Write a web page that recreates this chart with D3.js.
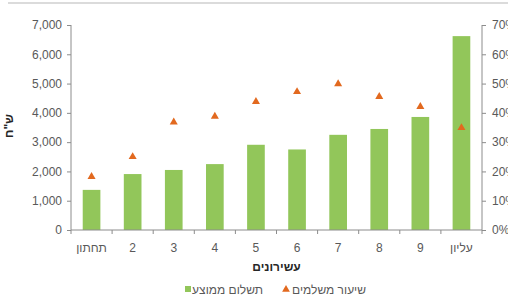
<!DOCTYPE html>
<html>
<head>
<meta charset="utf-8">
<script src="https://cdn.jsdelivr.net/npm/d3@7"></script>
<style>
  body { margin: 0; background: #fff; }
  text { font-family: "Liberation Sans", Arial, sans-serif; }
</style>
</head>
<body>
<div class="chart"></div>
<script>
// deciles, average payment (NIS) and share of payers (%)
const categories = ["תחתון", "2", "3", "4", "5", "6", "7", "8", "9", "עליון"]
const avgPayment = [1370, 1910, 2050, 2250, 2910, 2750, 3250, 3450, 3860, 6620]
const payersRate = [18.2, 25.0, 36.8, 38.8, 43.8, 47.2, 49.9, 45.5, 42.1, 34.9]
const leftTicks = [0, 1000, 2000, 3000, 4000, 5000, 6000, 7000]
const rightTicks = [0, 10, 20, 30, 40, 50, 60, 70]

var width = 508
    height = 305
const margin = {top: 25, right: 26, bottom: 75, left: 71}

const barColor = "#92c65a"
const triColor = "#e2691f"
const axisColor = "#8c8c8c"
const textColor = "#595959"

const svg = d3.select(".chart")
  .append("svg")
    .attr("width", width)
    .attr("height", height)

// thin frame line on top
svg.append("line")
  .attr("x1", 8).attr("x2", width)
  .attr("y1", 3).attr("y2", 3)
  .attr("stroke", "#cfcfcf")
  .attr("stroke-width", 1.5)

const x = d3.scaleBand()
  .domain(categories)
  .range([margin.left, width - margin.right])
  .paddingInner(0.57)
  .paddingOuter(0.285)

const y = d3.scaleLinear()
  .domain([0, 7000])
  .range([height - margin.bottom, margin.top])

const y2 = d3.scaleLinear()
  .domain([0, 70])
  .range([height - margin.bottom, margin.top])

// bars
svg.selectAll("rect.bar")
  .data(avgPayment)
  .enter()
  .append("rect")
    .attr("class", "bar")
    .attr("x", (d, i) => x(categories[i]))
    .attr("width", x.bandwidth())
    .attr("y", d => y(d))
    .attr("height", d => y(0) - y(d))
    .attr("fill", barColor)

// left axis
const leftAxis = svg.append("g")
  .attr("transform", "translate(" + margin.left + ",0)")
  .call(d3.axisLeft(y).tickValues(leftTicks).tickFormat(d3.format(",")).tickSize(4).tickPadding(5))

// right axis (labels run off the right edge, as in the original)
const rightAxis = svg.append("g")
  .attr("transform", "translate(" + (width - margin.right) + ",0)")
  .call(d3.axisRight(y2).tickValues(rightTicks).tickFormat(d => d + "%").tickSize(4).tickPadding(6))

// bottom axis: ticks at band boundaries
const bottom = svg.append("g")
  .attr("transform", "translate(0," + y(0) + ")")
bottom.append("line")
  .attr("x1", margin.left).attr("x2", width - margin.right)
  .attr("stroke", axisColor)
bottom.selectAll("line.tick")
  .data(d3.range(categories.length + 1))
  .enter()
  .append("line")
    .attr("x1", i => margin.left + i * x.step())
    .attr("x2", i => margin.left + i * x.step())
    .attr("y1", 0).attr("y2", 4)
    .attr("stroke", axisColor)
bottom.selectAll("text")
  .data(categories)
  .enter()
  .append("text")
    .attr("x", d => x(d) + x.bandwidth() / 2)
    .attr("y", 22)
    .attr("text-anchor", "middle")
    .attr("fill", textColor)
    .style("font-size", "12px")
    .text(d => d)

;[leftAxis, rightAxis].forEach(function(g){
  g.selectAll("path, line").attr("stroke", axisColor)
  g.select(".domain").attr("d", function(){
    return "M0," + y(0) + "V" + margin.top
  })
  g.selectAll("text").attr("fill", textColor).style("font-size", "12px")
    .style("font-family", "'Liberation Sans', Arial, sans-serif")
})

// triangles
svg.selectAll("path.tri")
  .data(payersRate)
  .enter()
  .append("path")
    .attr("class", "tri")
    .attr("d", d3.symbol().type(d3.symbolTriangle).size(28))
    .attr("transform", (d, i) => "translate(" + (x(categories[i]) + x.bandwidth() / 2) + "," + y2(d) + ")")
    .attr("fill", triColor)

// axis titles
svg.append("text")
  .attr("x", (margin.left + width - margin.right) / 2)
  .attr("y", 271)
  .attr("text-anchor", "middle")
  .attr("fill", "#262626")
  .style("font-size", "12px")
  .style("font-weight", "bold")
  .text("עשירונים")

svg.append("text")
  .attr("transform", "translate(13,126) rotate(-90)")
  .attr("text-anchor", "middle")
  .attr("fill", "#262626")
  .style("font-size", "12px")
  .style("font-weight", "bold")
  .text('ש"ח')

// legend
const legend = svg.append("g")
legend.append("rect")
  .attr("x", 185).attr("y", 286)
  .attr("width", 6).attr("height", 6)
  .attr("fill", barColor)
legend.append("text")
  .attr("x", 263).attr("y", 294)
  .attr("text-anchor", "end")
  .attr("fill", textColor)
  .style("font-size", "12px")
  .text("תשלום ממוצע")
legend.append("path")
  .attr("d", d3.symbol().type(d3.symbolTriangle).size(26))
  .attr("transform", "translate(286,289.5)")
  .attr("fill", triColor)
legend.append("text")
  .attr("x", 366).attr("y", 294)
  .attr("text-anchor", "end")
  .attr("fill", textColor)
  .style("font-size", "12px")
  .text("שיעור משלמים")
</script>
</body>
</html>
